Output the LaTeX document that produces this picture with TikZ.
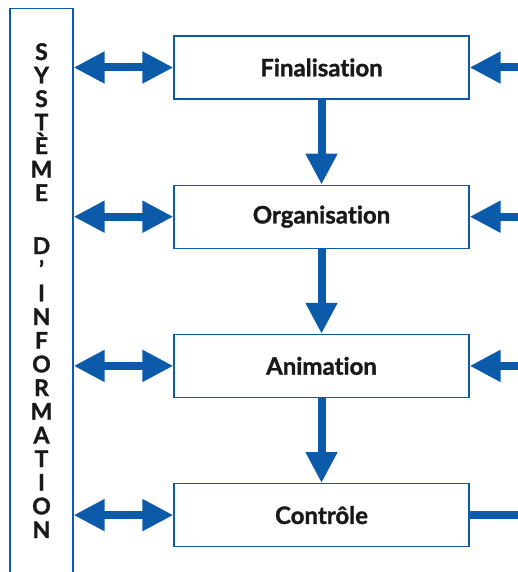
\documentclass[tikz,border=0pt]{standalone}
\usepackage{fontspec}
\setmainfont{Lato}[Ligatures={NoCommon},BoldFeatures={FakeBold=1.3}]
\usetikzlibrary{arrows.meta, positioning}
\definecolor{infoblue}{RGB}{12,90,170}

\begin{document}
\begin{tikzpicture}[x=1pt,y=-1pt,
    stage/.style={draw=infoblue,line width=1.2pt,minimum width=295pt,minimum height=63pt,font=\fontsize{24}{26}\selectfont\bfseries,text=black!90},
    letter/.style={anchor=base,font=\fontsize{23}{26}\selectfont\bfseries,text=black!90},
    flow/.style={infoblue,line width=8pt,-{Triangle[length=31pt,width=30pt]}},
    both/.style={infoblue,line width=8pt,{Triangle[length=31pt,width=30pt]}-{Triangle[length=31pt,width=30pt]}}]
    \useasboundingbox (0,0) rectangle (517,572);
    % Side box: information system
    \node[draw=infoblue,line width=1.2pt,minimum width=63pt,minimum height=590pt,anchor=north] (sysinfo) at (41.5,8) {};
    \foreach \ch [count=\k] in {S,Y,S,T,È,M,E}
        \node[letter] (up\k) at (41.5,{60+23.5*(\k-1)}) {\ch};
    \foreach \ch [count=\k] in {D,’,I,N,F,O,R,M,A,T,I,O,N}
        \node[letter] (low\k) at (41.5,{254+23.67*(\k-1)}) {\ch};
    % Stages
    \node[stage] (fin) at (321.5,67.5) {Finalisation};
    \node[stage,below=85pt of fin] (org) {Organisation};
    \node[stage,below=85pt of org] (ani) {Animation};
    \node[stage,below=85pt of ani] (con) {Contrôle};
    % Arrows
    \draw[flow] (fin) -- (org);
    \draw[flow] (org) -- (ani);
    \draw[flow] (ani) -- (con);
    \foreach \n in {fin,org,ani,con}
        \draw[both] (sysinfo.east |- \n.west) -- (\n.west);
    \foreach \n in {fin,org,ani}
        \draw[flow] ([xshift=56pt]\n.east) -- (\n.east);
    \draw[infoblue,line width=8pt] (con.east) -- ([xshift=56pt]con.east);
\end{tikzpicture}
\end{document}
